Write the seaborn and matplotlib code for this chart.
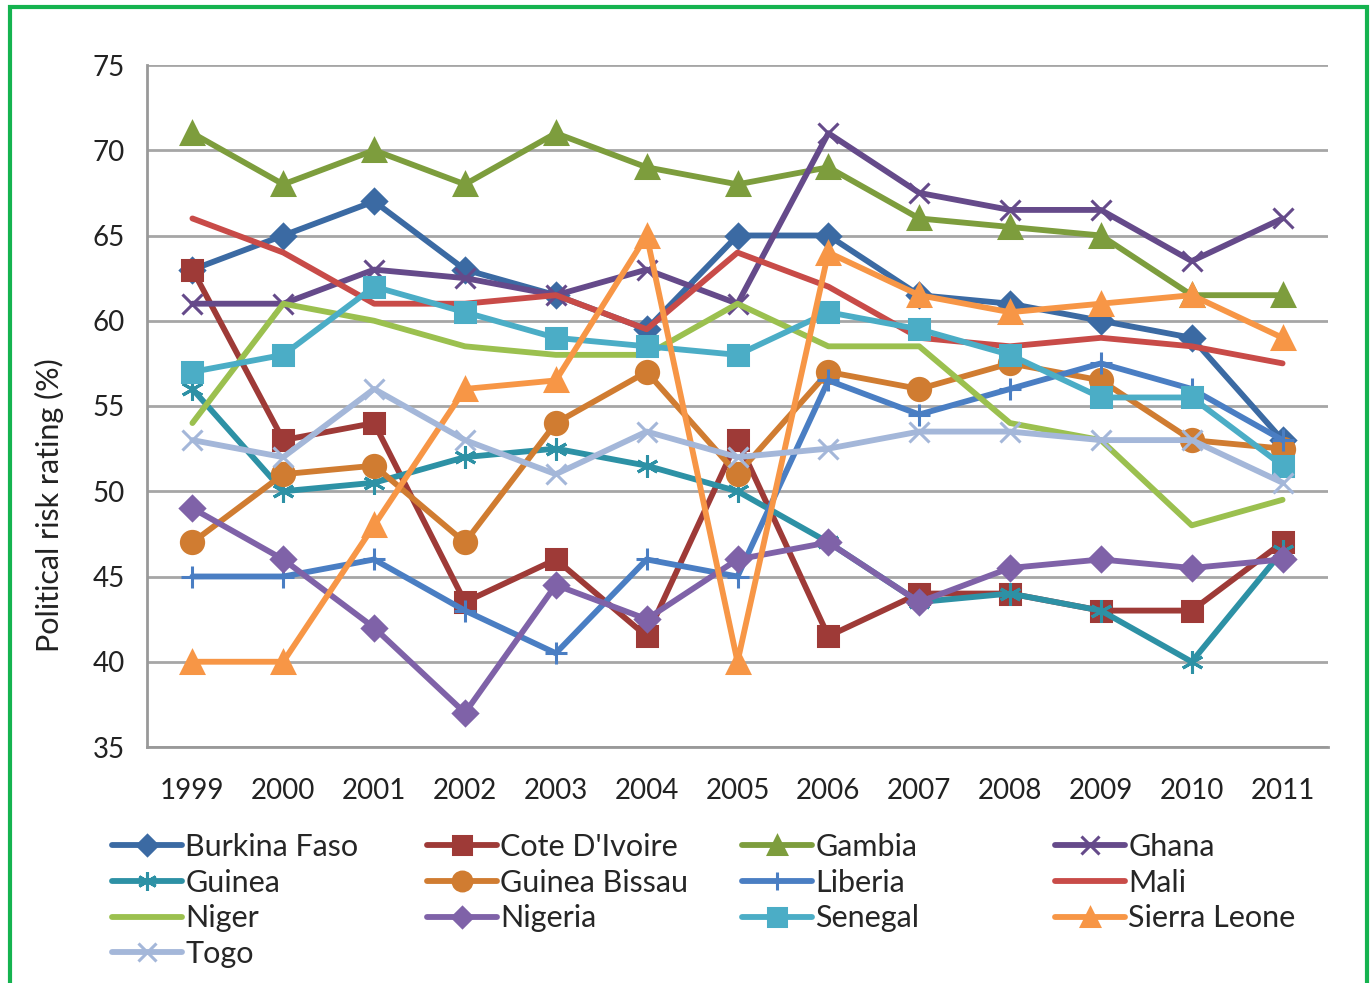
import pandas as pd
import matplotlib.pyplot as plt
import seaborn as sns
from matplotlib.patches import Rectangle

# Data
years = ["1999", "2000", "2001", "2002", "2003", "2004", "2005",
         "2006", "2007", "2008", "2009", "2010", "2011"]

burkina_faso = [63, 65, 67, 63, 61.5, 59.5, 65, 65, 61.5, 61, 60, 59, 53]
cote_divoire = [63, 53, 54, 43.5, 46, 41.5, 53, 41.5, 44, 44, 43, 43, 47]
gambia = [71, 68, 70, 68, 71, 69, 68, 69, 66, 65.5, 65, 61.5, 61.5]
ghana = [61, 61, 63, 62.5, 61.5, 63, 61, 71, 67.5, 66.5, 66.5, 63.5, 66]
guinea = [56, 50, 50.5, 52, 52.5, 51.5, 50, 47, 43.5, 44, 43, 40, 46.5]
guinea_bissau = [47, 51, 51.5, 47, 54, 57, 51, 57, 56, 57.5, 56.5, 53, 52.5]
liberia = [45, 45, 46, 43, 40.5, 46, 45, 56.5, 54.5, 56, 57.5, 56, 53]
mali = [66, 64, 61, 61, 61.5, 59.5, 64, 62, 59, 58.5, 59, 58.5, 57.5]
niger = [54, 61, 60, 58.5, 58, 58, 61, 58.5, 58.5, 54, 53, 48, 49.5]
nigeria = [49, 46, 42, 37, 44.5, 42.5, 46, 47, 43.5, 45.5, 46, 45.5, 46]
senegal = [57, 58, 62, 60.5, 59, 58.5, 58, 60.5, 59.5, 58, 55.5, 55.5, 51.5]
sierra_leone = [40, 40, 48, 56, 56.5, 65, 40, 64, 61.5, 60.5, 61, 61.5, 59]
togo = [53, 52, 56, 53, 51, 53.5, 52, 52.5, 53.5, 53.5, 53, 53, 50.5]

countries = ["Burkina Faso", "Cote D'Ivoire", "Gambia", "Ghana", "Guinea",
             "Guinea Bissau", "Liberia", "Mali", "Niger", "Nigeria",
             "Senegal", "Sierra Leone", "Togo"]
series = [burkina_faso, cote_divoire, gambia, ghana, guinea, guinea_bissau,
          liberia, mali, niger, nigeria, senegal, sierra_leone, togo]

colors = ["#3b6aa3", "#9e3a37", "#7d9d3d", "#654a8a", "#2d91a5", "#d07c31",
          "#4a7ec3", "#c84b48", "#9bc04f", "#7f62a8", "#4badc6", "#f79646",
          "#a4b7d9"]
markers = ["D", "s", "^", "x", (6, 2, 0), "o", "+", "", "", "D", "s", "^", "x"]
msizes = [12, 15, 16, 15, 16, 16, 16, 0, 0, 12, 15, 16, 15]

rows = []
for name, vals in zip(countries, series):
    for i, v in enumerate(vals):
        rows.append({"country": name, "x": i, "value": v})
df = pd.DataFrame(rows)

sns.set_style("white")
plt.rcParams["font.family"] = ["Lato", "DejaVu Sans"]

fig = plt.figure(figsize=(13.72, 9.83), dpi=100)
ax = fig.add_axes([147 / 1372, 1 - 747 / 983, (1328 - 147) / 1372, (747 - 65) / 983])

handles = {}
for name, col, mk, ms in zip(countries, colors, markers, msizes):
    sub = df[df["country"] == name]
    sns.lineplot(data=sub, x="x", y="value", ax=ax, color=col, linewidth=4.2,
                 marker=mk if mk else None, markersize=ms, markeredgewidth=2.2,
                 markeredgecolor=col, label=name, legend=False)
    handles[name] = ax.lines[-1]

ax.set_xlim(-0.5, 12.5)
ax.set_ylim(35, 75)
ax.set_yticks(range(35, 80, 5))
ax.set_xticks(range(13))
ax.set_xticklabels(years)
ax.set_xticks([i - 0.5 for i in range(14)], minor=True)
ax.tick_params(axis="x", which="major", length=0, labelsize=20, pad=22, colors="#222222")
ax.tick_params(axis="x", which="minor", length=9, width=1.8, color="#999999", direction="out")
ax.tick_params(axis="y", length=10, width=1.8, color="#999999", labelsize=20,
               labelcolor="#222222", direction="out", pad=6)
ax.yaxis.grid(True, color="#a6a6a6", linewidth=2)
ax.xaxis.grid(False)
for s in ["top", "right"]:
    ax.spines[s].set_visible(False)
for s in ["left", "bottom"]:
    ax.spines[s].set_color("#999999")
    ax.spines[s].set_linewidth(2)
ax.set_xlabel("")
ax.set_ylabel("Political risk rating (%)", fontsize=22, color="#222222")
ax.yaxis.set_label_coords((64 - 147) / 1181, 1 - (505 - 65) / 682)

# legend laid out row-wise like the reference: one legend per column
legend_cols = [["Burkina Faso", "Guinea", "Niger", "Togo"],
               ["Cote D'Ivoire", "Guinea Bissau", "Nigeria"],
               ["Gambia", "Liberia", "Senegal"],
               ["Ghana", "Mali", "Sierra Leone"]]
col_x = [112, 427, 742, 1055]
for names, cx in zip(legend_cols, col_x):
    fig.legend([handles[n] for n in names], names, loc="upper left",
               bbox_to_anchor=(cx / 1372, 1 - 833 / 983), frameon=False,
               fontsize=22, handlelength=2.3, handletextpad=0.1,
               labelspacing=0.25, borderaxespad=0, borderpad=0,
               markerscale=0.85)

fig.patches.append(Rectangle((10 / 1372, -0.02), (1367 - 10) / 1372, 1.02 - 7 / 983,
                             transform=fig.transFigure, fill=False,
                             edgecolor="#15b34f", linewidth=3))

fig.savefig("out.png", dpi=100)
